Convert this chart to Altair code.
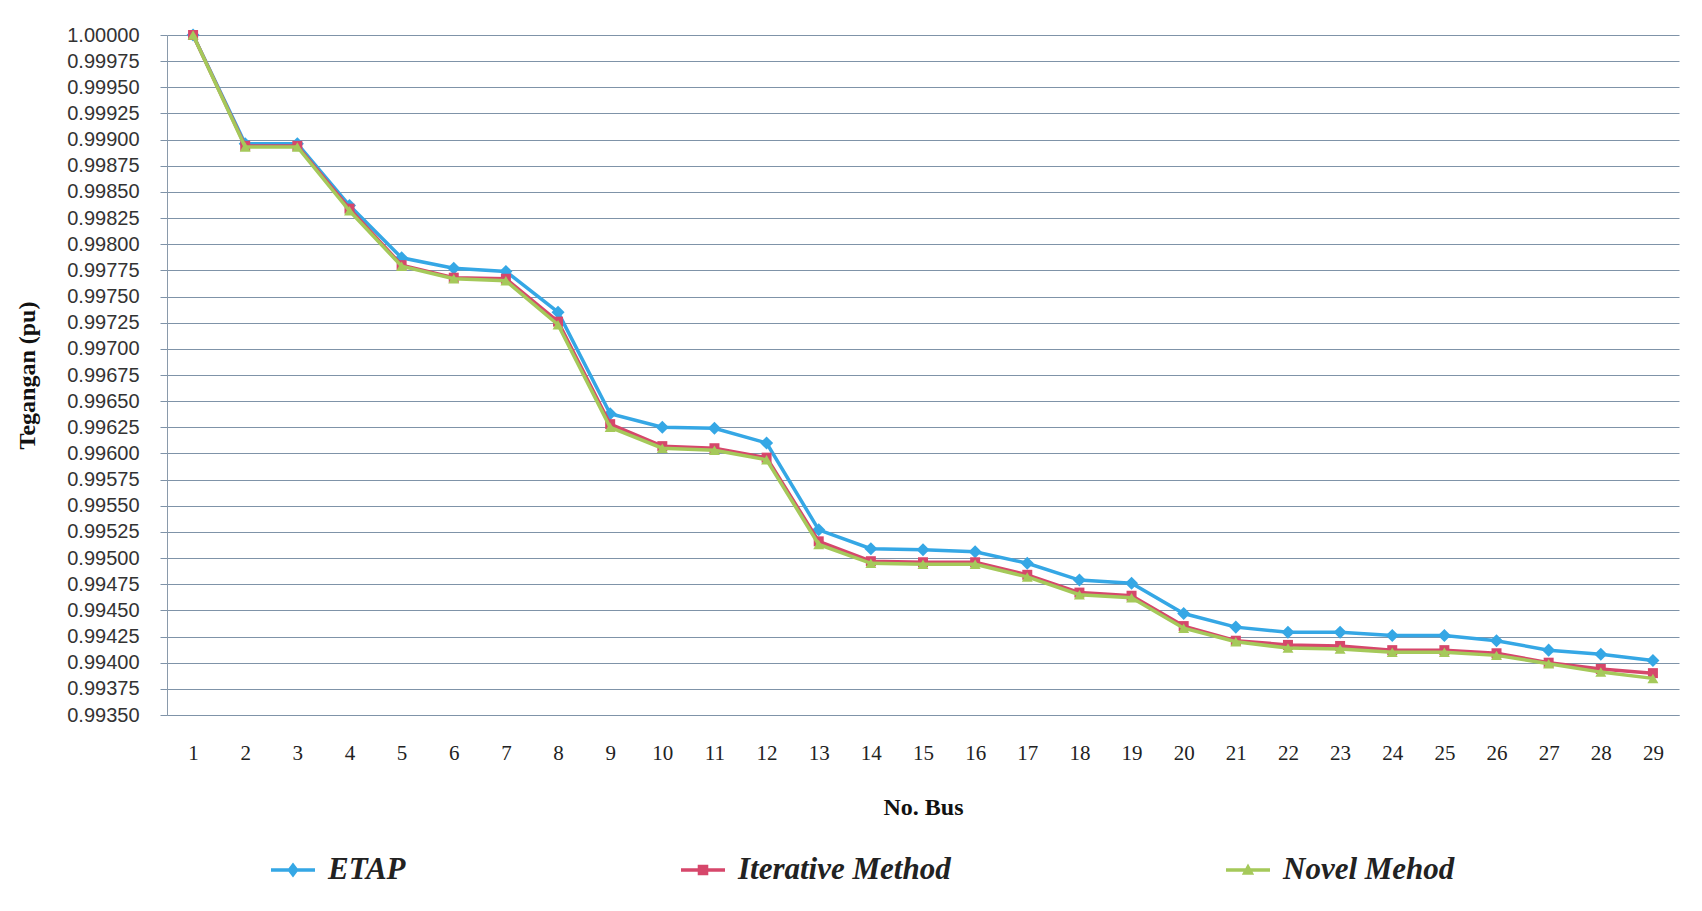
import altair as alt
import pandas as pd

# ---------------- data ----------------
bus = list(range(1, 30))
etap = [1.00000, 0.99896, 0.99896, 0.99837, 0.99787, 0.99777, 0.99774, 0.99735,
        0.99638, 0.99625, 0.99624, 0.99610, 0.99527, 0.99509, 0.99508, 0.99506,
        0.99495, 0.99479, 0.99476, 0.99447, 0.99434, 0.99429, 0.99429, 0.99426,
        0.99426, 0.99421, 0.99412, 0.99408, 0.99402]
iterative = [1.00000, 0.99894, 0.99894, 0.99834, 0.99780, 0.99768, 0.99767, 0.99726,
             0.99628, 0.99607, 0.99605, 0.99596, 0.99516, 0.99497, 0.99496, 0.99496,
             0.99484, 0.99467, 0.99464, 0.99435, 0.99421, 0.99417, 0.99416, 0.99412,
             0.99412, 0.99409, 0.99400, 0.99394, 0.99390]
novel = [1.00000, 0.99893, 0.99893, 0.99832, 0.99779, 0.99767, 0.99765, 0.99723,
         0.99625, 0.99605, 0.99603, 0.99594, 0.99513, 0.99495, 0.99494, 0.99494,
         0.99482, 0.99465, 0.99462, 0.99433, 0.99420, 0.99414, 0.99413, 0.99410,
         0.99410, 0.99407, 0.99399, 0.99391, 0.99385]
series_names = ["ETAP", "Iterative Method", "Novel Mehod"]
y_ticks = [1.00000, 0.99975, 0.99950, 0.99925, 0.99900, 0.99875, 0.99850,
           0.99825, 0.99800, 0.99775, 0.99750, 0.99725, 0.99700, 0.99675,
           0.99650, 0.99625, 0.99600, 0.99575, 0.99550, 0.99525, 0.99500,
           0.99475, 0.99450, 0.99425, 0.99400, 0.99375, 0.99350]

# ---------------- styles ----------------
colors = ["#35A7E5", "#D6476B", "#A5C95A"]
marker_shapes = ["diamond", "square", "triangle-up"]
marker_sizes = [170, 100, 120]
line_bar = "M-1,-0.08L1,-0.08L1,0.08L-1,0.08Z"
legend_paths = [
    line_bar + "M0,-0.34L0.26,0L0,0.34L-0.26,0Z",
    line_bar + "M-0.24,-0.24L0.24,-0.24L0.24,0.24L-0.24,0.24Z",
    line_bar + "M0,-0.3L0.28,0.22L-0.28,0.22Z",
]

rows = []
for name, vals in zip(series_names, [etap, iterative, novel]):
    for b, v in zip(bus, vals):
        rows.append({"bus": b, "series": name, "value": v})
df = pd.DataFrame(rows)

grid_col = "#7F93A8"

x_enc = alt.X(
    "bus:O",
    sort=bus,
    axis=alt.Axis(
        labelAngle=0, grid=False, ticks=False, labelPadding=27,
        labelFont="Liberation Serif", labelFontSize=21, labelColor="#222222",
        domainColor=grid_col, title="No. Bus", titleFont="Liberation Serif",
        titleFontSize=24, titleFontWeight="bold", titleColor="#111111",
        titleY=92, titleBaseline="middle",
    ),
)
y_enc = alt.Y(
    "value:Q",
    scale=alt.Scale(domain=[0.9935, 1.0], zero=False, nice=False),
    axis=alt.Axis(
        values=y_ticks, format=".5f", labelFont="Liberation Sans",
        labelFontSize=20, labelColor="#333333", tickSize=7, tickColor=grid_col,
        labelPadding=21, domainColor="#8A9AAB", gridColor=grid_col,
        gridWidth=1, title="Tegangan (pu)", titleFont="Liberation Serif",
        titleFontSize=24, titleFontWeight="bold", titleColor="#111111",
        titleX=-140, titleY=340, titleAngle=270, titleAlign="center",
        titleBaseline="middle",
    ),
)
color_scale = alt.Scale(domain=series_names, range=colors)

base = alt.Chart(df)

# legend-only layer: no marks drawn, legend symbols are line + marker
legend_layer = base.transform_filter("false").mark_point(filled=True, opacity=1).encode(
    x=x_enc,
    y=y_enc,
    fill=alt.Fill("series:N", scale=alt.Scale(domain=series_names, range=colors),
                  title=None),
    shape=alt.Shape(
        "series:N",
        scale=alt.Scale(domain=series_names, range=legend_paths),
        title=None,
        legend=alt.Legend(
            orient="none", direction="horizontal", legendX=104, legendY=813,
            symbolSize=1936, labelFont="Liberation Serif", labelFontSize=31,
            labelFontStyle="italic", labelFontWeight="bold", labelColor="#222222",
            labelOffset=13, columnPadding=275, symbolStrokeWidth=0,
            labelLimit=400,
        ),
    ),
)

layers = [legend_layer]
for name, shp, sz in zip(series_names, marker_shapes, marker_sizes):
    sub = base.transform_filter(alt.datum.series == name)
    layers.append(
        sub.mark_line(strokeWidth=3.5).encode(
            x=x_enc,
            y=y_enc,
            color=alt.Color("series:N", scale=color_scale, legend=None),
            order=alt.Order("bus:Q"),
        )
    )
    layers.append(
        sub.mark_point(filled=True, opacity=1, shape=shp, size=sz).encode(
            x=x_enc,
            y=y_enc,
            color=alt.Color("series:N", scale=color_scale, legend=None),
        )
    )

chart = (
    alt.layer(*layers)
    .properties(
        width=1512,
        height=680,
        autosize=alt.AutoSizeParams(type="none"),
        padding={"left": 159, "top": 27, "right": 10, "bottom": 180},
        background="white",
    )
    .configure_view(stroke=None)
)

chart.save("out.html", embed_options={"renderer": "svg", "actions": False})
